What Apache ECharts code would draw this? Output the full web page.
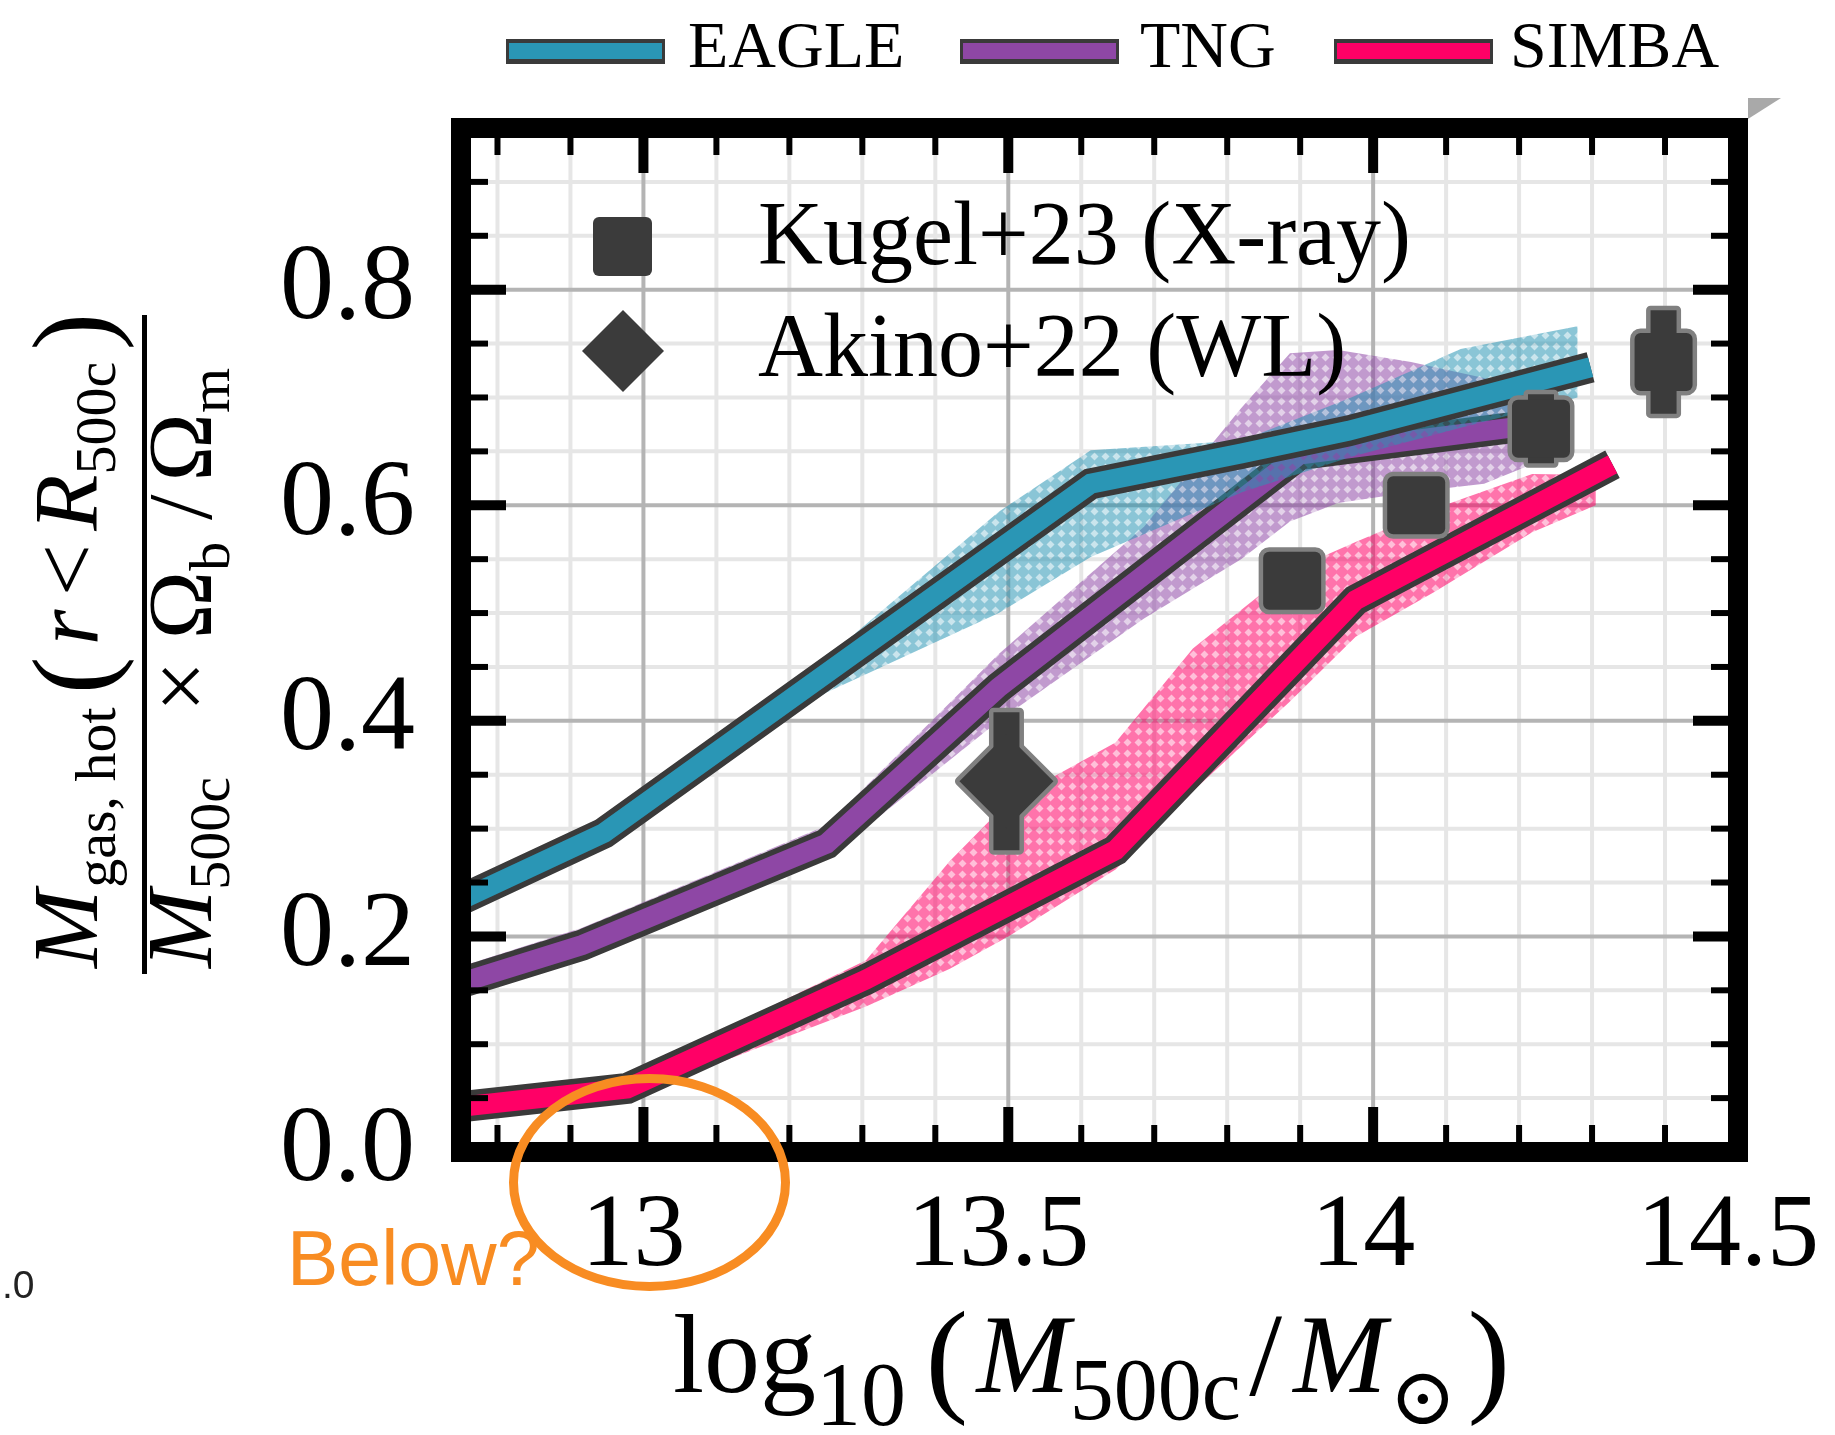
<!DOCTYPE html>
<html>
<head>
<meta charset="utf-8">
<title>Hot gas fraction versus halo mass</title>
<script src="https://cdn.jsdelivr.net/npm/echarts@6.0.0/dist/echarts.min.js"></script>
<style>
  html, body { margin: 0; padding: 0; background: #ffffff; }
  #chart { width: 1835px; height: 1435px; }
</style>
</head>
<body>
<div id="chart"></div>
<script>
// ---- axes -------------------------------------------------------------
const X_RANGE = [12.75, 14.5];
const Y_RANGE = [0, 0.95];
const xMajorTicks = [13, 13.5, 14, 14.5];
const xTickLabels = ['13', '13.5', '14', '14.5'];
const xMinorTicks = [12.8, 12.9, 13.1, 13.2, 13.3, 13.4, 13.6, 13.7, 13.8, 13.9, 14.1, 14.2, 14.3, 14.4];
const yMajorTicks = [0, 0.2, 0.4, 0.6, 0.8];
const yTickLabels = ['0.0', '0.2', '0.4', '0.6', '0.8'];
const yMinorTicks = [0.05, 0.1, 0.15, 0.25, 0.3, 0.35, 0.45, 0.5, 0.55, 0.65, 0.7, 0.75, 0.85, 0.9];

// ---- simulations: median relation ---------------------------------------
const simNames = ['EAGLE', 'TNG', 'SIMBA'];

const eagleMass = [12.75, 12.946, 13.613, 13.819, 13.966, 14.298];
const eagleFrac = [0.234, 0.296, 0.620, 0.648, 0.669, 0.728];

const tngMass = [12.75, 12.916, 13.251, 13.487, 13.899, 14.19];
const tngFrac = [0.157, 0.192, 0.286, 0.431, 0.647, 0.672];

const simbaMass = [12.75, 12.978, 13.305, 13.647, 13.976, 14.328];
const simbaFrac = [0.042, 0.059, 0.160, 0.280, 0.512, 0.638];

// ---- simulations: scatter band ------------------------------------------
const eagleBandMass = [12.75, 12.946, 13.25, 13.487, 13.613, 13.82, 13.97, 14.12, 14.28];
const eagleBandLow  = [0.226, 0.288, 0.426, 0.500, 0.552, 0.612, 0.645, 0.672, 0.700];
const eagleBandHigh = [0.242, 0.304, 0.458, 0.594, 0.651, 0.660, 0.700, 0.745, 0.766];

const tngBandMass = [12.75, 12.916, 13.251, 13.487, 13.686, 13.819, 13.886, 13.952, 14.052, 14.152, 14.218];
const tngBandLow  = [0.147, 0.180, 0.272, 0.400, 0.495, 0.550, 0.585, 0.602, 0.612, 0.620, 0.638];
const tngBandHigh = [0.172, 0.208, 0.303, 0.462, 0.580, 0.690, 0.741, 0.744, 0.733, 0.718, 0.700];

const simbaBandMass = [12.75, 12.978, 13.305, 13.42, 13.5, 13.647, 13.753, 13.886, 13.976, 14.085, 14.218, 14.305];
const simbaBandLow  = [0.034, 0.050, 0.135, 0.170, 0.200, 0.262, 0.335, 0.418, 0.478, 0.520, 0.575, 0.600];
const simbaBandHigh = [0.052, 0.070, 0.178, 0.270, 0.325, 0.380, 0.467, 0.539, 0.566, 0.597, 0.629, 0.628];

// ---- observations --------------------------------------------------------
const obsNames = ['Kugel+23 (X-ray)', 'Akino+22 (WL)'];
const kugelMass = [13.889, 14.059, 14.230, 14.398];
const kugelFrac = [0.530, 0.600, 0.671, 0.733];
const kugelErr  = [0.020, 0.020, 0.032, 0.048];
const akinoMass = [13.4975];
const akinoFrac = [0.344];
const akinoErr  = [0.064];

// ---- styling -------------------------------------------------------------
const SERIF = '"Liberation Serif", "DejaVu Serif", serif';
const SANS = '"Liberation Sans", "DejaVu Sans", sans-serif';
const OUTLINE = '#3a3a3a';
const simColors = ['#2a96b5', '#8e47a5', '#ff0066'];
const simRgb = ['42,150,181', '142,71,165', '255,0,102'];
const LINE_OUTER = 31, LINE_INNER = 20;
const MARK_FILL = '#3b3b3b', MARK_EDGE = '#808080';

// cross-hatched fill: tinted lattice with diamond holes
function hatch(rgb) {
  const c = document.createElement('canvas');
  c.width = 11; c.height = 11;
  const g = c.getContext('2d');
  g.fillStyle = 'rgba(' + rgb + ',0.55)';
  g.fillRect(0, 0, 11, 11);
  g.globalCompositeOperation = 'destination-out';
  g.beginPath();
  g.moveTo(5.5, 1.5); g.lineTo(9.5, 5.5); g.lineTo(5.5, 9.5); g.lineTo(1.5, 5.5);
  g.closePath(); g.fill();
  return { image: c, repeat: 'repeat' };
}

function bandSeries(mass, low, high, rgb, z) {
  const data = mass.map((m, i) => [m, low[i], high[i]]);
  const pattern = hatch(rgb);
  return {
    type: 'custom', z: z, silent: true, clip: true, animation: false,
    data: data, encode: { x: 0, y: [1, 2] },
    renderItem(params, api) {
      if (params.dataIndex !== 0) return null;
      const upper = data.map(d => api.coord([d[0], d[2]]));
      const lower = data.map(d => api.coord([d[0], d[1]])).reverse();
      return { type: 'polygon', shape: { points: upper.concat(lower) }, style: { fill: pattern } };
    }
  };
}

function lineSeries(mass, frac, color, width, z) {
  return {
    type: 'line', z: z, silent: true, animation: false, clip: true,
    symbol: 'none', showSymbol: false,
    data: mass.map((m, i) => [m, frac[i]]),
    lineStyle: { color: color, width: width, cap: 'butt', join: 'miter', miterLimit: 10 }
  };
}

// marker with vertical error bar; outline layer first so edges merge
function markerSeries(mass, frac, err, shape, z) {
  return {
    type: 'custom', z: z, silent: true, clip: false, animation: false,
    data: mass.map((m, i) => [m, frac[i], err[i]]), encode: { x: 0, y: 1 },
    renderItem(params, api) {
      const x = api.value(0), y = api.value(1), e = api.value(2);
      const c = api.coord([x, y]);
      const top = api.coord([x, y + e]);
      const bot = api.coord([x, y - e]);
      const bar = { x: c[0] - 13, y: top[1], width: 26, height: bot[1] - top[1] };
      let mk, mkType;
      if (shape === 'square') {
        mkType = 'rect';
        mk = { x: c[0] - 29, y: c[1] - 29, width: 58, height: 58, r: 6 };
      } else {
        mkType = 'polygon';
        const h = 47;
        mk = { points: [[c[0], c[1] - h], [c[0] + h, c[1]], [c[0], c[1] + h], [c[0] - h, c[1]]] };
      }
      const edge = { fill: MARK_EDGE, stroke: MARK_EDGE, lineWidth: 9, lineJoin: 'round' };
      const body = { fill: MARK_FILL };
      return {
        type: 'group', children: [
          { type: 'rect', shape: bar, style: edge },
          { type: mkType, shape: mk, style: edge },
          { type: 'rect', shape: bar, style: body },
          { type: mkType, shape: mk, style: body }
        ]
      };
    }
  };
}

// background grid: light minor lines, grey major lines
const gridSeries = {
  type: 'custom', z: 1, silent: true, clip: false, animation: false,
  data: [[X_RANGE[0], Y_RANGE[0]]],
  renderItem(params, api) {
    const kids = [];
    const seg = (a, b, color, w) => kids.push({
      type: 'line', shape: { x1: a[0], y1: a[1], x2: b[0], y2: b[1] },
      style: { stroke: color, lineWidth: w }
    });
    const vx = (v, color, w) => seg(api.coord([v, Y_RANGE[0]]), api.coord([v, Y_RANGE[1]]), color, w);
    const hy = (v, color, w) => seg(api.coord([X_RANGE[0], v]), api.coord([X_RANGE[1], v]), color, w);
    xMinorTicks.forEach(v => vx(v, '#e6e6e6', 4));
    yMinorTicks.forEach(v => hy(v, '#e6e6e6', 4));
    xMajorTicks.forEach(v => vx(v, '#b4b4b4', 4));
    yMajorTicks.forEach(v => hy(v, '#b4b4b4', 4));
    return { type: 'group', children: kids };
  }
};

// heavy frame with inward ticks on all four sides
const frameSeries = {
  type: 'custom', z: 12, silent: true, clip: false, animation: false,
  data: [[X_RANGE[0], Y_RANGE[0]]],
  renderItem(params, api) {
    const kids = [];
    const seg = (a, b, w) => kids.push({
      type: 'line', shape: { x1: a[0], y1: a[1], x2: b[0], y2: b[1] },
      style: { stroke: '#000', lineWidth: w, lineCap: 'butt' }
    });
    const xt = (v, len, w) => {
      const b = api.coord([v, Y_RANGE[0]]), t = api.coord([v, Y_RANGE[1]]);
      seg(b, [b[0], b[1] - len], w);
      seg(t, [t[0], t[1] + len], w);
    };
    const yt = (v, len, w) => {
      const l = api.coord([X_RANGE[0], v]), r = api.coord([X_RANGE[1], v]);
      seg(l, [l[0] + len, l[1]], w);
      seg(r, [r[0] - len, r[1]], w);
    };
    xMinorTicks.forEach(v => xt(v, 27, 6));
    yMinorTicks.forEach(v => yt(v, 27, 6));
    xMajorTicks.forEach(v => xt(v, 45, 10));
    yMajorTicks.forEach(v => yt(v, 45, 10));
    const tl = api.coord([X_RANGE[0], Y_RANGE[1]]);
    const br = api.coord([X_RANGE[1], Y_RANGE[0]]);
    kids.push({
      type: 'rect', shape: { x: tl[0], y: tl[1], width: br[0] - tl[0], height: br[1] - tl[1] },
      style: { fill: 'none', stroke: '#000', lineWidth: 20, lineJoin: 'miter' }
    });
    return { type: 'group', children: kids };
  }
};

// ---- math-style axis titles built from text runs ---------------------------
const measureCtx = document.createElement('canvas').getContext('2d');
function fontOf(r) { return (r.italic ? 'italic ' : '') + r.size + 'px ' + SERIF; }
function runsToTexts(runs, length) {
  let natural = 0, gapSum = 0;
  runs.forEach(r => {
    measureCtx.font = fontOf(r);
    r.w = measureCtx.measureText(r.text).width;
    natural += r.w; gapSum += (r.gap || 0);
  });
  const k = gapSum > 0 ? Math.max(0, (length - natural) / gapSum) : 0;
  let x = 0;
  return runs.map(r => {
    x += (r.gap || 0) * k;
    const el = {
      type: 'text', x: x, y: (r.dy || 0) - 0.3375 * r.size, z: 15,
      style: { text: r.text, font: fontOf(r), fill: '#000', align: 'left', verticalAlign: 'middle' }
    };
    x += r.w;
    return el;
  });
}

const numeratorRuns = [
  { text: 'M', italic: true, size: 94 },
  { text: 'gas, hot', size: 58, dy: 15, gap: 2 },
  { text: '(', size: 112, dy: 14, gap: 14 },
  { text: 'r', italic: true, size: 92, gap: 12 },
  { text: '<', size: 92, gap: 14 },
  { text: 'R', italic: true, size: 92, gap: 14 },
  { text: '500c', size: 58, dy: 15 },
  { text: ')', size: 112, dy: 14, gap: 12 }
];
const denominatorRuns = [
  { text: 'M', italic: true, size: 94 },
  { text: '500c', size: 58, dy: 15 },
  { text: '×', size: 90, gap: 30 },
  { text: 'Ω', size: 92, gap: 10 },
  { text: 'b', size: 58, dy: 15 },
  { text: '/', size: 92, gap: 10 },
  { text: 'Ω', size: 92, gap: 6 },
  { text: 'm', size: 58, dy: 15 }
];
const xTitleRuns = [
  { text: 'log', size: 112 },
  { text: '10', size: 90, dy: 32 },
  { text: '(', size: 128, dy: 9, gap: 14 },
  { text: 'M', italic: true, size: 112, gap: 6 },
  { text: '500c', size: 88, dy: 26 },
  { text: '/', size: 118, dy: 4, gap: 6 },
  { text: 'M', italic: true, size: 112, gap: 8 },
  { text: '⊙', size: 80, dy: 30, gap: 2 },
  { text: ')', size: 128, dy: 9, gap: 8 }
];

// ---- legends ---------------------------------------------------------------
const topLegendPos = [[506, 688], [960, 1140], [1334, 1510]];
const topLegend = [];
simNames.forEach((name, i) => {
  const [sx, tx] = topLegendPos[i];
  topLegend.push(
    { type: 'rect', z: 15, shape: { x: sx, y: 39, width: 159, height: 25 }, style: { fill: OUTLINE } },
    { type: 'rect', z: 15, shape: { x: sx + 3, y: 43, width: 153, height: 16 }, style: { fill: simColors[i] } },
    { type: 'text', z: 15, x: tx, y: 50,
      style: { text: name, font: '66px ' + SERIF, fill: '#000', align: 'left', verticalAlign: 'middle' } }
  );
});

const innerLegend = [
  { type: 'rect', z: 15, shape: { x: 593, y: 217, width: 59, height: 59, r: 6 }, style: { fill: MARK_FILL } },
  { type: 'polygon', z: 15, shape: { points: [[623, 310], [664, 351], [623, 392], [582, 351]] }, style: { fill: MARK_FILL } },
  { type: 'text', z: 15, x: 758, y: 240,
    style: { text: obsNames[0], font: '90px ' + SERIF, fill: '#000', align: 'left', verticalAlign: 'middle' } },
  { type: 'text', z: 15, x: 758, y: 352,
    style: { text: obsNames[1], font: '90px ' + SERIF, fill: '#000', align: 'left', verticalAlign: 'middle' } }
];

const ORANGE = '#f88c22';
const extras = [
  // fraction bar of the y title
  { type: 'rect', z: 15, shape: { x: 142, y: 315, width: 5, height: 659 }, style: { fill: '#000' } },
  { type: 'group', x: 104, y: 968, rotation: Math.PI / 2, children: runsToTexts(numeratorRuns, 655) },
  { type: 'group', x: 218, y: 968, rotation: Math.PI / 2, children: runsToTexts(denominatorRuns, 600) },
  { type: 'group', x: 673, y: 1400, children: runsToTexts(xTitleRuns, 837) },
  // hand-drawn note
  { type: 'ellipse', z: 30, shape: { cx: 649.5, cy: 1182.5, rx: 136, ry: 104 },
    style: { fill: 'none', stroke: ORANGE, lineWidth: 9 } },
  { type: 'text', z: 30, x: 287, y: 1264,
    style: { text: 'Below?', font: '77px ' + SANS, fill: ORANGE, align: 'left', verticalAlign: 'middle' } },
  // edge of the neighbouring panels
  { type: 'text', z: 15, x: 2, y: 1287,
    style: { text: '.0', font: '39px ' + SANS, fill: '#222', align: 'left', verticalAlign: 'middle' } },
  { type: 'polygon', z: 15, shape: { points: [[1748, 98], [1781, 98], [1748, 119]] }, style: { fill: '#a9a9a9' } }
];

// ---- chart ------------------------------------------------------------------
const chart = echarts.init(document.getElementById('chart'), null, { renderer: 'canvas', width: 1835, height: 1435 });
chart.setOption({
  animation: false,
  backgroundColor: '#ffffff',
  grid: { left: 461, right: 97, top: 128, bottom: 283, containLabel: false },
  xAxis: {
    type: 'value', min: X_RANGE[0], max: X_RANGE[1],
    axisLine: { show: false }, axisTick: { show: false }, splitLine: { show: false },
    axisLabel: {
      customValues: xMajorTicks,
      formatter: v => xTickLabels[xMajorTicks.indexOf(v)],
      fontFamily: SERIF, fontSize: 104, color: '#000', margin: 34, padding: [0, 20, 0, 0]
    }
  },
  yAxis: {
    type: 'value', min: Y_RANGE[0], max: Y_RANGE[1],
    axisLine: { show: false }, axisTick: { show: false }, splitLine: { show: false },
    axisLabel: {
      customValues: yMajorTicks,
      formatter: v => yTickLabels[yMajorTicks.indexOf(v)],
      fontFamily: SERIF, fontSize: 108, color: '#000', margin: 46
    }
  },
  series: [
    gridSeries,
    bandSeries(tngBandMass, tngBandLow, tngBandHigh, simRgb[1], 2),
    lineSeries(tngMass, tngFrac, OUTLINE, LINE_OUTER, 3),
    lineSeries(tngMass, tngFrac, simColors[1], LINE_INNER, 4),
    bandSeries(eagleBandMass, eagleBandLow, eagleBandHigh, simRgb[0], 5),
    lineSeries(eagleMass, eagleFrac, OUTLINE, LINE_OUTER, 6),
    lineSeries(eagleMass, eagleFrac, simColors[0], LINE_INNER, 7),
    bandSeries(simbaBandMass, simbaBandLow, simbaBandHigh, simRgb[2], 8),
    lineSeries(simbaMass, simbaFrac, OUTLINE, LINE_OUTER, 9),
    lineSeries(simbaMass, simbaFrac, simColors[2], LINE_INNER, 10),
    markerSeries(akinoMass, akinoFrac, akinoErr, 'diamond', 11),
    markerSeries(kugelMass, kugelFrac, kugelErr, 'square', 11),
    frameSeries
  ],
  graphic: { elements: topLegend.concat(innerLegend, extras) }
});
</script>
</body>
</html>
